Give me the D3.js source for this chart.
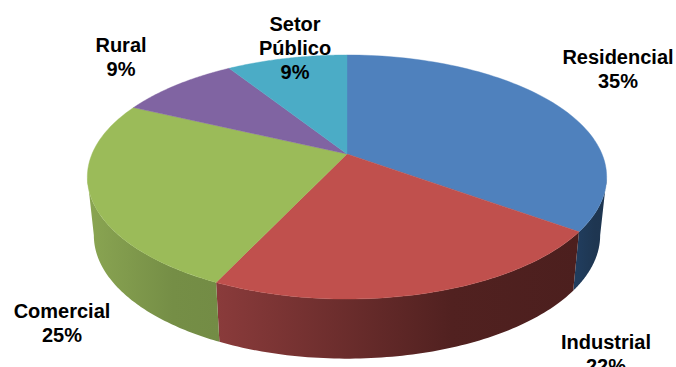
<!DOCTYPE html>
<html>
<head>
<meta charset="utf-8">
<script src="https://cdn.jsdelivr.net/npm/d3@7"></script>
<style>
  html, body { margin: 0; padding: 0; background: #fff; overflow: hidden; }
  text { font-family: "Liberation Sans", Arial, sans-serif; font-weight: bold; font-size: 20px; fill: #000; }
</style>
</head>
<body>
<svg id="chart" width="676" height="367"></svg>
<script>
// Consumption share by sector
const sectors = ["Residencial", "Industrial", "Comercial", "Rural", "Setor Público"];
const shares = [35, 22, 25, 9, 9];
const topColors = ["#4f81bd", "#c0504d", "#9bbb59", "#8064a2", "#4bacc6"];
const wallLeftColors = ["#213e60", "#8a3b3b", "#8aa552", "#5e4a78", "#37808f"];
const wallRightColors = ["#1e3550", "#4c1f1e", "#738c45", "#4a3a60", "#2d6a78"];
const labelLines = [["Residencial"], ["Industrial"], ["Comercial"], ["Rural"], ["Setor", "Público"]];
const labelAnchors = [[618, 64], [606, 349], [62, 318], [121, 52], [295, 31]];

const width = 676, height = 367;
const svg = d3.select("#chart").attr("viewBox", [0, 0, width, height]);

// Perspective disc: a unit circle tilted away from the viewer
const tilt = -0.1885;
const hub = { x: 347, y: 154 };
const rim = { x: 255, y: 117.7 };
const base = { x: 255 * 0.975, y: 119, cy: 212 };

const projectTop = a => {
  const u = Math.sin(a), v = -Math.cos(a), d = 1 + tilt * v;
  return [hub.x + rim.x * u / d, hub.y + rim.y * v / d];
};
const projectBase = a => {
  const u = Math.sin(a), v = -Math.cos(a), d = 1 + tilt * v;
  return [hub.x + base.x * u / d, base.cy + base.y * v / d];
};

const pie = d3.pie().value(d => d).sort(null);
const arcs = pie(shares);
const line = d3.line();
const sweep = (a0, a1, fn) => d3.range(0, 81).map(i => fn(a0 + (a1 - a0) * i / 80));

// The outline of the disc turns at these two angles; only the wall between them shows
const tangent = Math.acos(tilt);
const wallStart = tangent, wallEnd = 2 * Math.PI - tangent;

const defs = svg.append("defs");
const walls = svg.append("g");
const faces = svg.append("g");

arcs.forEach((arc, i) => {
  const a0 = Math.max(arc.startAngle, wallStart);
  const a1 = Math.min(arc.endAngle, wallEnd);
  if (a1 <= a0) return;
  const outer = sweep(a0, a1, projectTop);
  const inner = sweep(a0, a1, projectBase).reverse();
  const pts = outer.concat(inner);
  const xr = d3.extent(pts, p => p[0]);
  const grad = defs.append("linearGradient")
    .attr("id", "wall" + i)
    .attr("gradientUnits", "userSpaceOnUse")
    .attr("x1", xr[0]).attr("x2", xr[1]).attr("y1", 0).attr("y2", 0);
  grad.append("stop").attr("offset", 0).attr("stop-color", wallLeftColors[i]);
  grad.append("stop").attr("offset", 0.65).attr("stop-color", d3.interpolateRgb(wallLeftColors[i], wallRightColors[i])(0.92));
  grad.append("stop").attr("offset", 1).attr("stop-color", wallRightColors[i]);
  walls.append("path")
    .attr("d", line(pts) + "Z")
    .attr("fill", `url(#wall${i})`);
});

arcs.forEach((arc, i) => {
  const pts = [[hub.x, hub.y]].concat(sweep(arc.startAngle, arc.endAngle, projectTop));
  faces.append("path")
    .attr("d", line(pts) + "Z")
    .attr("fill", topColors[i])
    .attr("stroke", topColors[i])
    .attr("stroke-width", 0.4);
});

// Two- and three-line labels, sector name above its share
const labels = svg.append("g").attr("text-anchor", "middle");
sectors.forEach((name, i) => {
  const lines = labelLines[i].concat(shares[i] + "%");
  const t = labels.append("text").attr("aria-label", name);
  lines.forEach((s, j) => {
    t.append("tspan")
      .attr("x", labelAnchors[i][0])
      .attr("y", labelAnchors[i][1] + j * 24)
      .text(s);
  });
});
</script>
</body>
</html>
